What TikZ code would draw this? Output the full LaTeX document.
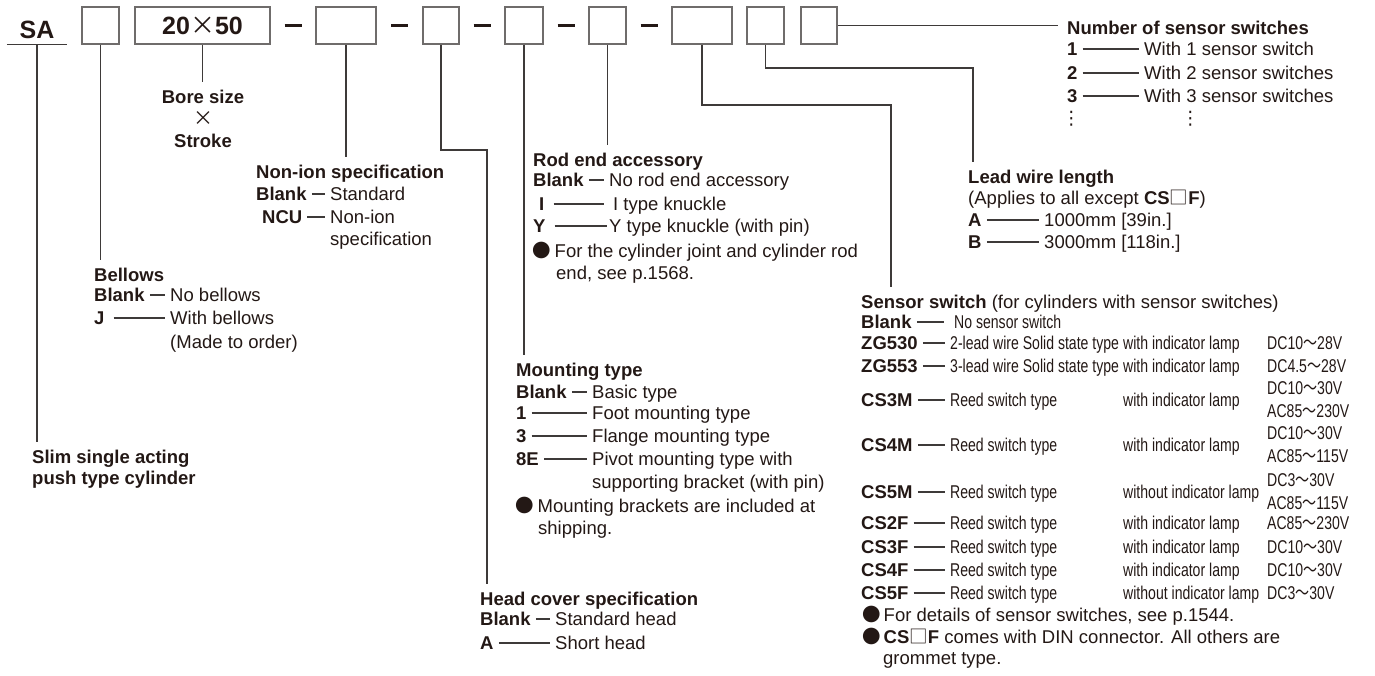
\documentclass[tikz,border=0pt]{standalone}
\usepackage{fontspec}
\setmainfont{Liberation Sans}
\newfontfamily\condfont{Liberation Sans}[FakeStretch=0.76]
\newfontfamily\symfont{Noto Sans CJK JP}
\newfontfamily\symcond{Noto Sans CJK JP}[FakeStretch=0.76]
\newfontfamily\dotfont{DejaVu Sans}
\usetikzlibrary{positioning}
\usetikzlibrary{calc}
\definecolor{inkdark}{HTML}{231815}
\definecolor{linegrey}{HTML}{3E3A39}
\definecolor{boxgrey}{HTML}{6F6C6B}
\newcommand{\bulletmark}{{\symfont ●}}
\newcommand{\csbox}{{\symfont\mdseries □}}
\newcommand{\wave}{{\symcond ～}}
\newcommand{\crossmark}{{\symfont\mdseries ×}}

\begin{document}
\begin{tikzpicture}[x=1pt, y=-1pt,
            txt/.style={inner sep=0pt, anchor=base west, text=inkdark, font=\fontsize{18.5}{22}\selectfont},
            head/.style={txt, font=\fontsize{18.5}{22}\selectfont\bfseries, outer ysep=8pt},
            key/.style={txt, font=\fontsize{18.5}{22}\selectfont\bfseries, text height=13pt, text depth=0pt},
            cond/.style={txt, font=\fontsize{18.5}{22}\selectfont\condfont},
            codebox/.style={draw=boxgrey, line width=1.6pt, minimum height=37pt, inner sep=0pt, text=inkdark},
            conn/.style={draw=linegrey, line width=1.4pt},
            dashline/.style={conn, line width=1.2pt, shorten <=5pt, shorten >=5pt},
            sepbar/.style={draw=inkdark, line width=2.2pt},
            ]
            \useasboundingbox (0,0) rectangle (1375,675);

            % model code row
            \node[txt, anchor=base, font=\fontsize{25}{30}\selectfont\bfseries, minimum width=60pt, inner ysep=5.5pt, text depth=0pt] (sa) at (37,38.5) {SA};
            \draw[conn] (sa.south west) -- (sa.south east);
            \node[codebox, minimum width=37pt] (b1) at (100.5,25.5) {};
            \node[codebox, minimum width=135pt, font=\fontsize{25}{30}\selectfont\bfseries] (b2) at (202.5,25.5) {20\crossmark 50};
            \node[codebox, minimum width=60pt] (b3) at (346,25.5) {};
            \node[codebox, minimum width=36pt] (b4) at (441,25.5) {};
            \node[codebox, minimum width=38pt] (b5) at (524,25.5) {};
            \node[codebox, minimum width=37pt] (b6) at (607.5,25.5) {};
            \node[codebox, minimum width=60pt] (b7) at (702,25.5) {};
            \node[codebox, minimum width=37pt] (b8) at (765.5,25.5) {};
            \node[codebox, minimum width=36pt] (b9) at (819,25.5) {};
            \foreach \l/\r in {b2/b3, b3/b4, b4/b5, b5/b6, b6/b7}
                \draw[sepbar] ($(\l.east)!0.5!(\r.west)$) ++(-8.5,0) -- ++(17,0);

            % bore size x stroke
            \node[head, anchor=base] (bore) at (203,103.5) {Bore size};
            \node[txt, anchor=base, font=\fontsize{20}{22}\selectfont] (borex) at (203,125) {\crossmark};
            \node[txt, anchor=base, font=\fontsize{18.5}{22}\selectfont\bfseries] (stroke) at (203,147.5) {Stroke};
            \draw[conn] (b2.south) -- (b2.south |- bore.north);

            % slim single acting
            \node[head] (slim) at (32,463.5) {Slim single acting};
            \node[txt, font=\fontsize{18.5}{22}\selectfont\bfseries] (slim2) at (32,484.5) {push type cylinder};
            \draw[conn] (sa.south) -- (sa.south |- slim.north);

            % bellows
            \node[head] (bel) at (94,281.5) {Bellows};
            \node[key] (belk1) at (94,301.5) {Blank};
            \node[txt] (belv1) at (170,301.5) {No bellows};
            \node[key] (belk2) at (94,324.5) {J};
            \node[txt] (belv2) at (170,324.5) {With bellows};
            \node[txt] (belv3) at (170,348.5) {(Made to order)};
            \draw[dashline] (belk1.east) -- (belk1.east -| belv1.west);
            \draw[dashline, shorten <=9pt] (belk2.east) -- (belk2.east -| belv2.west);
            \draw[conn] (b1.south) -- (b1.south |- bel.north);

            % non-ion specification
            \node[head] (non) at (256,178.5) {Non-ion specification};
            \node[key] (nonk1) at (256,200.5) {Blank};
            \node[txt] (nonv1) at (330,200.5) {Standard};
            \node[key] (nonk2) at (262,223.5) {NCU};
            \node[txt] (nonv2) at (330,223.5) {Non-ion};
            \node[txt] (nonv3) at (330,245.5) {specification};
            \draw[dashline] (nonk1.east) -- (nonk1.east -| nonv1.west);
            \draw[dashline] (nonk2.east) -- (nonk2.east -| nonv2.west);
            \draw[conn] (b3.south) -- (b3.south |- non.north);

            % head cover specification
            \node[head] (hc) at (480,605.5) {Head cover specification};
            \node[key] (hck1) at (480,625.5) {Blank};
            \node[txt] (hcv1) at (555,625.5) {Standard head};
            \node[key] (hck2) at (480,649.5) {A};
            \node[txt] (hcv2) at (555,649.5) {Short head};
            \draw[dashline] (hck1.east) -- (hck1.east -| hcv1.west);
            \draw[dashline] (hck2.east) -- (hck2.east -| hcv2.west);
            \coordinate (hcbend) at (487,150);
            \draw[conn] (b4.south) |- (hcbend) -- (hcbend |- hc.north);

            % mounting type
            \node[head] (mt) at (516,376.5) {Mounting type};
            \node[key] (mtk1) at (516,398.5) {Blank};
            \node[txt] (mtv1) at (592,398.5) {Basic type};
            \node[key] (mtk2) at (516,419.5) {1};
            \node[txt] (mtv2) at (592,419.5) {Foot mounting type};
            \node[key] (mtk3) at (516,442.5) {3};
            \node[txt] (mtv3) at (592,442.5) {Flange mounting type};
            \node[key] (mtk4) at (516,465.5) {8E};
            \node[txt] (mtv4) at (592,465.5) {Pivot mounting type with};
            \node[txt] (mtv5) at (592,488.5) {supporting bracket (with pin)};
            \node[txt] (mtn1) at (515,512.5) {\bulletmark\hspace{4pt}Mounting brackets are included at};
            \node[txt] (mtn2) at (538,534.5) {shipping.};
            \foreach \i in {1,...,4}
                \draw[dashline] (mtk\i.east) -- (mtk\i.east -| mtv\i.west);
            \draw[conn] (b5.south) -- (b5.south |- mt.north);

            % rod end accessory
            \node[head] (rod) at (533,166.5) {Rod end accessory};
            \node[key] (rodk1) at (533,186.5) {Blank};
            \node[txt] (rodv1) at (609,186.5) {No rod end accessory};
            \node[key] (rodk2) at (539,210.5) {I};
            \node[txt] (rodv2) at (613,210.5) {I type knuckle};
            \node[key] (rodk3) at (533,232.5) {Y};
            \node[txt] (rodv3) at (609,232.5) {Y type knuckle (with pin)};
            \node[txt] (rodn1) at (532,257.5) {\bulletmark\hspace{4pt}For the cylinder joint and cylinder rod};
            \node[txt] (rodn2) at (556,279.5) {end, see p.1568.};
            \draw[dashline] (rodk1.east) -- (rodk1.east -| rodv1.west);
            \draw[dashline, shorten <=9pt, shorten >=9pt] (rodk2.east) -- (rodk2.east -| rodv2.west);
            \draw[dashline, shorten <=9pt, shorten >=2pt] (rodk3.east) -- (rodk3.east -| rodv3.west);
            \draw[conn] (b6.south) -- (b6.south |- rod.north);

            % sensor switch
            \node[head] (sw) at (861,308.5) {Sensor switch \mdseries(for cylinders with sensor switches)};
            \node[key] (swk0) at (861,328.5) {Blank};
            \node[cond] (swd0) at (954,328.5) {No sensor switch};
            \draw[dashline, shorten >=10pt] (swk0.east) -- (swk0.east -| swd0.west);
            \foreach \n/\k/\d/\l/\v/\y in {
                    1/ZG530/2-lead wire Solid state type/with/DC10\wave 28V/349.5,
                    2/ZG553/3-lead wire Solid state type/with/DC4.5\wave 28V/372.5,
                    6/CS2F/Reed switch type/with/AC85\wave 230V/529.5,
                    7/CS3F/Reed switch type/with/DC10\wave 30V/553.5,
                    8/CS4F/Reed switch type/with/DC10\wave 30V/576.5,
                    9/CS5F/Reed switch type/without/DC3\wave 30V/599.5}{
                \node[key] (swk\n) at (861,\y) {\k};
                \node[cond] (swd\n) at (950,\y) {\d};
                \node[cond] (swl\n) at (1123,\y) {\l\ indicator lamp};
                \node[cond] (swv\n) at (1267,\y) {\v};
                \draw[dashline] (swk\n.east) -- (swk\n.east -| swd\n.west);
            }
            \foreach \n/\k/\l/\va/\vb/\y in {
                    3/CS3M/with/DC10\wave 30V/AC85\wave 230V/406.5,
                    4/CS4M/with/DC10\wave 30V/AC85\wave 115V/451.5,
                    5/CS5M/without/DC3\wave 30V/AC85\wave 115V/498.5}{
                \node[key] (swk\n) at (861,\y) {\k};
                \node[cond] (swd\n) at (950,\y) {Reed switch type};
                \node[cond] (swl\n) at (1123,\y) {\l\ indicator lamp};
                \node[cond] (swv\n) at (1267,\y-12) {\va};
                \node[cond] (sww\n) at (1267,\y+11) {\vb};
                \draw[dashline] (swk\n.east) -- (swk\n.east -| swd\n.west);
            }
            \node[txt] (swn1) at (862,621.5) {\bulletmark\hspace{3pt}For details of sensor switches, see p.1544.};
            \node[txt] (swn2) at (862,643.5) {\bulletmark\hspace{3pt}\textbf{CS\csbox F} comes with DIN connector. All others are};
            \node[txt] (swn3) at (883,664.5) {grommet type.};
            \coordinate (swbend) at (891,105);
            \draw[conn] (b7.south) |- (swbend) -- (swbend |- sw.north);

            % lead wire length
            \node[head] (lw) at (968,183.5) {Lead wire length};
            \node[txt] (lwn) at (968,204.5) {(Applies to all except \textbf{CS\csbox F})};
            \node[key] (lwk1) at (968,226.5) {A};
            \node[txt] (lwv1) at (1044,226.5) {1000mm [39in.]};
            \node[key] (lwk2) at (968,248.5) {B};
            \node[txt] (lwv2) at (1044,248.5) {3000mm [118in.]};
            \draw[dashline] (lwk1.east) -- (lwk1.east -| lwv1.west);
            \draw[dashline] (lwk2.east) -- (lwk2.east -| lwv2.west);
            \coordinate (lwbend) at (973,68);
            \draw[conn] (b8.south) |- (lwbend) -- (lwbend |- lw.north);

            % number of sensor switches
            \node[head] (ns) at (1067,34.5) {Number of sensor switches};
            \foreach \i/\y in {1/55.5, 2/79.5, 3/102.5}{
                \node[key] (nsk\i) at (1067,\y) {\i};
                \node[txt] (nsv\i) at (1144,\y) {With \i\ sensor switch\ifnum\i>1 es\fi};
                \draw[dashline] (nsk\i.east) -- (nsk\i.east -| nsv\i.west);
            }
            \node[txt, font=\fontsize{18.5}{22}\selectfont\dotfont] (nsd1) at (1062,124) {⋮};
            \node[txt, font=\fontsize{18.5}{22}\selectfont\dotfont] (nsd2) at (1181,124) {⋮};
            \draw[conn] (b9.east) -- ([xshift=-9pt]b9.east -| ns.west);
        \end{tikzpicture}
\end{document}
